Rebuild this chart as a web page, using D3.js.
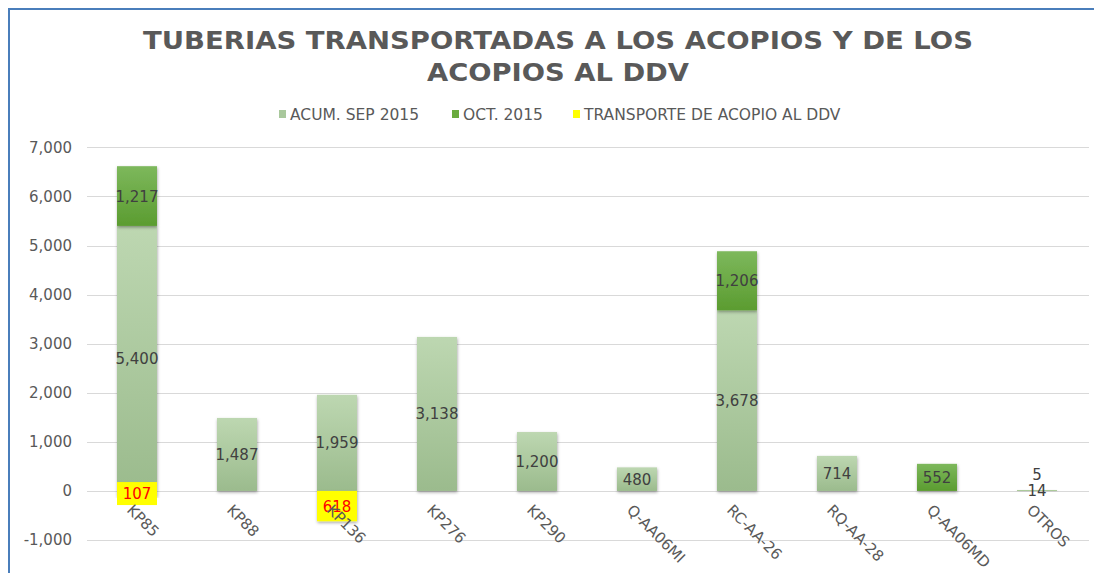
<!DOCTYPE html>
<html>
<head>
<meta charset="utf-8">
<script src="https://cdn.jsdelivr.net/npm/d3@7"></script>
<style>
  body { margin: 0; background: #fff; }
  svg text { font-family: "DejaVu Sans", Verdana, sans-serif; }
</style>
</head>
<body>
<svg id="chart" width="1094" height="573"></svg>
<script>

//Data
var categories = ["KP85", "KP88", "KP136", "KP276", "KP290", "Q-AA06MI", "RC-AA-26", "RQ-AA-28", "Q-AA06MD", "OTROS"];
var acumSep = [5400, 1487, 1959, 3138, 1200, 480, 3678, 714, 0, 14];
var oct2015 = [1217, 0, 0, 0, 0, 0, 1206, 0, 552, 5];
var transporte = [-107, 0, -618, 0, 0, 0, 0, 0, 0, 0];
var seriesNames = ["ACUM. SEP 2015", "OCT. 2015", "TRANSPORTE DE ACOPIO AL DDV"];
var yTicks = [-1000, 0, 1000, 2000, 3000, 4000, 5000, 6000, 7000];

var svg = d3.select("#chart");

//thousands format with a plain hyphen (d3 uses the unicode minus)
var fmt = function(v) { return d3.format(",")(v).replace("\u2212", "-"); };

//Frame lines (left + top only, like the screenshot)
svg.append("path")
	.attr("d", "M9,573V9H1094")
	.attr("fill", "none")
	.attr("stroke", "#4a7ebb")
	.attr("stroke-width", 2);

//Gradients + shadow
var defs = svg.append("defs");
function grad(id, top, bottom) {
	var g = defs.append("linearGradient").attr("id", id)
		.attr("x1", 0).attr("y1", 0).attr("x2", 0).attr("y2", 1);
	g.append("stop").attr("offset", "0%").attr("stop-color", top);
	g.append("stop").attr("offset", "100%").attr("stop-color", bottom);
}
grad("gLight", "#bdd7b1", "#9bbb8d");
grad("gDark", "#7db85c", "#5b9c30");

var shadow = defs.append("filter").attr("id", "shadow")
	.attr("x", "-20%").attr("y", "-20%").attr("width", "140%").attr("height", "140%");
shadow.append("feDropShadow")
	.attr("dx", 0.5).attr("dy", 1.5).attr("stdDeviation", 1.6)
	.attr("flood-color", "#000").attr("flood-opacity", 0.35);

var fills = ["url(#gLight)", "url(#gDark)", "#ffff00"];
var legendFills = ["#a9c89c", "#6aab3e", "#ffff00"];

//Title
svg.append("text")
	.attr("x", 558).attr("y", 49)
	.attr("text-anchor", "middle")
	.attr("font-size", 25).attr("font-weight", "bold").attr("fill", "#595959")
	.attr("textLength", 830).attr("lengthAdjust", "spacingAndGlyphs")
	.text("TUBERIAS TRANSPORTADAS A LOS ACOPIOS Y DE LOS");
svg.append("text")
	.attr("x", 558).attr("y", 81)
	.attr("text-anchor", "middle")
	.attr("font-size", 25).attr("font-weight", "bold").attr("fill", "#595959")
	.attr("textLength", 262).attr("lengthAdjust", "spacingAndGlyphs")
	.text("ACOPIOS AL DDV");

//Legend
var legendX = [279, 452, 573];
var legend = svg.selectAll(".legend")
	.data(seriesNames)
	.enter().append("g")
	.attr("class", "legend")
	.attr("transform", function(d, i) { return "translate(" + legendX[i] + ",114)"; });
legend.append("rect")
	.attr("x", 0).attr("y", -4).attr("width", 7).attr("height", 8)
	.attr("fill", function(d, i) { return legendFills[i]; });
legend.append("text")
	.attr("x", 11).attr("y", 5.5)
	.attr("font-size", 15.5).attr("fill", "#595959")
	.text(function(d) { return d; });

//Scales
var xScale = d3.scaleBand()
	.domain(categories)
	.range([87, 1087])
	.paddingInner(0.6)
	.paddingOuter(0.3);

var yScale = d3.scaleLinear()
	.domain([-1000, 7000])
	.range([540, 147.4]);

//Gridlines
svg.append("g").selectAll("line")
	.data(yTicks)
	.enter().append("line")
	.attr("x1", 87).attr("x2", 1089)
	.attr("y1", function(d) { return Math.round(yScale(d)) + 0.5; })
	.attr("y2", function(d) { return Math.round(yScale(d)) + 0.5; })
	.attr("stroke", "#d9d9d9").attr("stroke-width", 1);

//Y axis labels
var yAxis = d3.axisLeft(yScale)
	.tickValues(yTicks)
	.tickSize(0)
	.tickPadding(0)
	.tickFormat(fmt);
var yG = svg.append("g")
	.attr("transform", "translate(72,0)")
	.call(yAxis);
yG.select(".domain").remove();
yG.selectAll("text")
	.attr("font-size", 15).attr("fill", "#595959")
	.attr("font-family", "DejaVu Sans, Verdana, sans-serif");

//Stack the three series
var rows = categories.map(function(c, i) {
	return { cat: c, acum: acumSep[i], oct: oct2015[i], trans: transporte[i] };
});
var keys = ["acum", "oct", "trans"];
var stacked = d3.stack().keys(keys).offset(d3.stackOffsetDiverging)(rows);

var layers = svg.selectAll(".layer")
	.data(stacked)
	.enter().append("g")
	.attr("class", "layer")
	.attr("fill", function(d, i) { return fills[i]; });

layers.selectAll("rect")
	.data(function(d) { return d.filter(function(p) { return p[1] !== p[0]; }); })
	.enter().append("rect")
	.attr("x", function(d) { return xScale(d.data.cat); })
	.attr("width", xScale.bandwidth())
	.attr("y", function(d) { return yScale(Math.max(d[0], d[1])); })
	.attr("height", function(d) { return Math.abs(yScale(d[0]) - yScale(d[1])); })
	.attr("filter", "url(#shadow)");

//Data labels, nudged up when two sit on top of each other (OTROS)
var lastLabelY = {};
stacked.forEach(function(layer, li) {
	layer.forEach(function(p) {
		if (p[1] === p[0]) return;
		var val = p.data[keys[li]];
		var cx = xScale(p.data.cat) + xScale.bandwidth() / 2;
		var cy = (yScale(p[0]) + yScale(p[1])) / 2;
		if (val > 0 && lastLabelY[p.data.cat] !== undefined && lastLabelY[p.data.cat] - cy < 16) {
			cy = lastLabelY[p.data.cat] - 16;
		}
		if (val > 0) lastLabelY[p.data.cat] = cy;

		if (val < 0) {
			//yellow label box for the transport series
			svg.append("rect")
				.attr("x", xScale(p.data.cat))
				.attr("y", cy - 11.5)
				.attr("width", xScale.bandwidth())
				.attr("height", 23)
				.attr("fill", "#ffff00");
		}
		svg.append("text")
			.attr("x", cx).attr("y", cy + 5.5)
			.attr("text-anchor", "middle")
			.attr("font-size", 15)
			.attr("fill", val < 0 ? "#ff0000" : "#404040")
			.text(fmt(Math.abs(val)));
	});
});

//X labels, rotated 45
svg.append("g").selectAll("text")
	.data(categories)
	.enter().append("text")
	.attr("transform", function(d) {
		return "translate(" + (xScale(d) + xScale.bandwidth() / 2 - 11) + ",511) rotate(45)";
	})
	.attr("font-size", 15).attr("fill", "#595959")
	.text(function(d) { return d; });

</script>
</body>
</html>
